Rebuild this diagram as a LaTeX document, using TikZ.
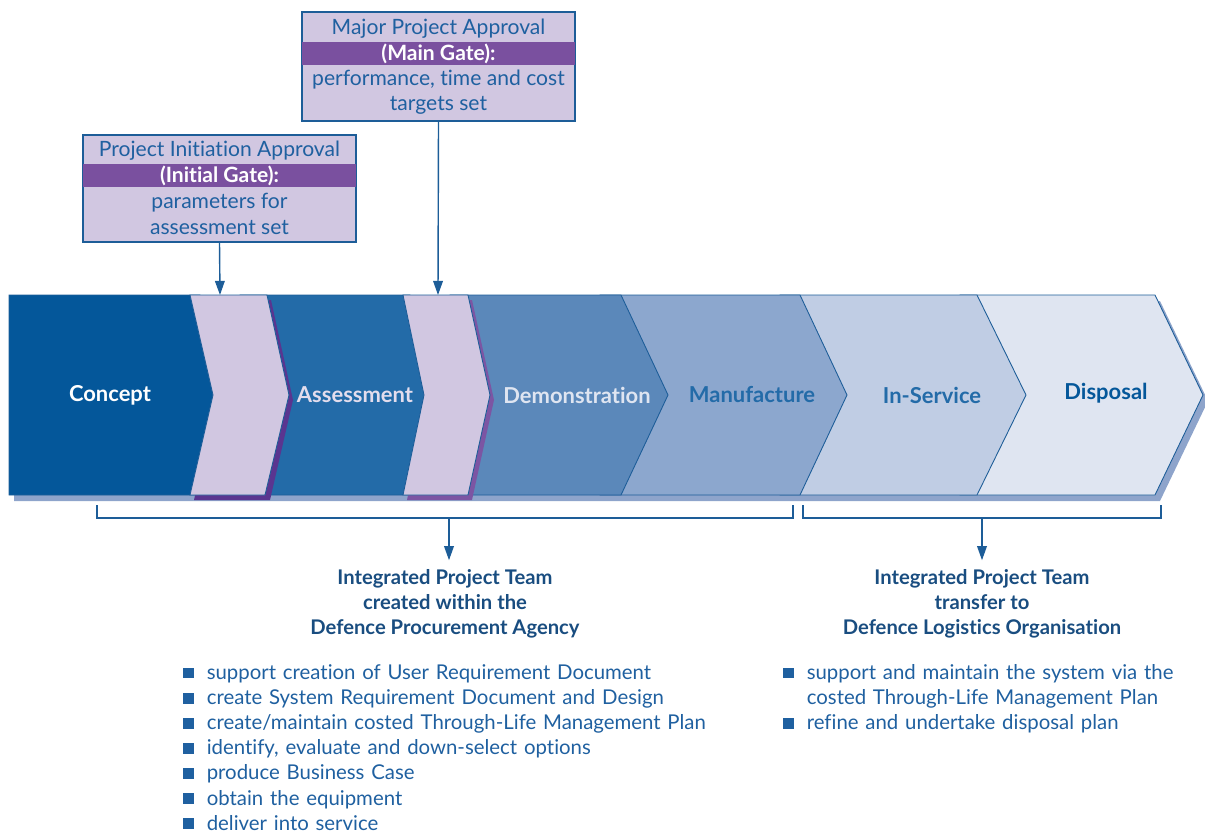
\documentclass[tikz,border=0pt]{standalone}
\usepackage{fontspec}
\setmainfont{Lato}[Ligatures=NoCommon]
\usetikzlibrary{arrows.meta}

\definecolor{conceptblue}{HTML}{04579A}
\definecolor{assessblue}{HTML}{236BA8}
\definecolor{demoblue}{HTML}{5B88BA}
\definecolor{manublue}{HTML}{8CA7CE}
\definecolor{servblue}{HTML}{C0CDE4}
\definecolor{dispblue}{HTML}{DFE5F1}
\definecolor{bandshade}{HTML}{8EA4CB}
\definecolor{gatefill}{HTML}{D1C7E1}
\definecolor{gatepurple}{HTML}{7A509F}
\definecolor{gateshadeA}{HTML}{5A3590}
\definecolor{gateshadeB}{HTML}{7C55A3}
\definecolor{ink}{HTML}{1F60A0}
\definecolor{edge}{HTML}{1D5D98}

\newcommand{\blt}{\par\noindent
  \makebox[1.15em][l]{\color{ink}\raisebox{0.6pt}{\rule{6.2pt}{6.2pt}}}}

\begin{document}
\begin{tikzpicture}[x=0.02cm,y=-0.02cm]
  \tikzstyle{every node}+=[inner sep=0pt]
  \tikzstyle{stage}=[draw=edge,line width=0.5pt]
  \tikzstyle{stagelbl}=[font=\fontsize{12.5}{14}\selectfont\bfseries]
  \tikzstyle{gatebox}=[draw=edge,fill=gatefill,line width=0.8pt,minimum width=5.46cm]
  \tikzstyle{gatetxt}=[text=ink,font=\fontsize{12}{14}\selectfont]
  \tikzstyle{conn}=[draw=edge,line width=0.8pt,-{Triangle[width=5.5pt,length=8pt]}]
  \tikzstyle{brace}=[draw=edge,line width=0.8pt]
  \tikzstyle{teamtxt}=[text=ink!80!black,align=center,font=\fontsize{11.5}{14.4}\selectfont\bfseries]
  \tikzstyle{listtxt}=[text=ink,align=left,font=\fontsize{11.6}{14.3}\selectfont]
  \useasboundingbox (0,0) rectangle (1205,832);

  % shadow under the whole band
  \fill[bandshade] (14,301) -- (1160,301) -- (1208,401) -- (1160,501) -- (14,501) -- cycle;

  % stages, back to front
  \filldraw[stage,fill=dispblue] (960,295) -- (1155,295) -- (1203,395) -- (1155,495) -- (960,495) -- cycle;
  \filldraw[stage,fill=servblue] (780,295) -- (977,295) -- (1026,395) -- (977,495) -- (780,495) -- cycle;
  \filldraw[stage,fill=manublue] (600,295) -- (800,295) -- (847,395) -- (800,495) -- (600,495) -- cycle;
  \filldraw[stage,fill=demoblue] (450,295) -- (621,295) -- (668,395) -- (621,495) -- (450,495) -- cycle;
  \filldraw[stage,fill=assessblue] (240,295) -- (410,295) -- (435,395) -- (410,495) -- (240,495) -- cycle;
  \fill[gateshadeB] (407,300) -- (472,300) -- (494,400) -- (472,500) -- (407,500) -- (428,400) -- cycle;
  \filldraw[stage,fill=gatefill] (403,295) -- (468,295) -- (490,395) -- (468,495) -- (403,495) -- (424,395) -- cycle;
  \filldraw[stage,fill=conceptblue] (9,295) -- (200,295) -- (225,395) -- (200,495) -- (9,495) -- cycle;
  \fill[gateshadeA] (194,300) -- (271,300) -- (293,400) -- (270,500) -- (194,500) -- (217,400) -- cycle;
  \filldraw[stage,fill=gatefill] (190,295) -- (267,295) -- (289,395) -- (265,495) -- (190,495) -- (213,395) -- cycle;

  \node[stagelbl,text=white] (concept) at (110,395) {Concept};
  \node[stagelbl,text=gatefill!60!white] (assess) at (355,395) {Assessment};
  \node[stagelbl,text=dispblue] (demo) at (577,395) {Demonstration};
  \node[stagelbl,text=assessblue] (manu) at (752,395) {Manufacture};
  \node[stagelbl,text=assessblue] (serv) at (932,395) {In-Service};
  \node[stagelbl,text=conceptblue] (disp) at (1106,393) {Disposal};

  \coordinate (gateone) at (220,295);
  \coordinate (gatetwo) at (438,295);

  % approval boxes
  \node[gatebox,minimum height=2.14cm] (initial) at (219.5,188.5) {};
  \fill[gatepurple] (83,164) rectangle (356,187);
  \draw[draw=edge,line width=0.8pt] (initial.south west) rectangle (initial.north east);
  \node[gatetxt] (initA) at (219.5,151) {Project Initiation Approval};
  \node[gatetxt,text=white,font=\fontsize{12}{14}\selectfont\bfseries] (initB) at (219.5,176) {(Initial Gate):};
  \node[gatetxt,align=center,font=\fontsize{12}{14.6}\selectfont] (initC) at (219.5,214) {parameters for\\assessment set};

  \node[gatebox,minimum height=2.18cm] (major) at (438.5,66.5) {};
  \fill[gatepurple] (302,42) rectangle (575,65);
  \draw[draw=edge,line width=0.8pt] (major.south west) rectangle (major.north east);
  \node[gatetxt] (majA) at (438.5,29) {Major Project Approval};
  \node[gatetxt,text=white,font=\fontsize{12}{14}\selectfont\bfseries] (majB) at (438.5,54) {(Main Gate):};
  \node[gatetxt,align=center,font=\fontsize{12}{14.6}\selectfont] (majC) at (438.5,92) {performance, time and cost\\targets set};

  \draw[conn] (initial.south) -- (gateone);
  \draw[conn] (major.south) -- (gatetwo);

  % team brackets
  \draw[brace] (97,505) -- (97,518) -- (793,518) -- (793,505);
  \draw[brace] (803,505) -- (803,518) -- (1161,518) -- (1161,505);
  \coordinate (dpa) at (449,518);
  \coordinate (dlo) at (982,518);

  \node[teamtxt,anchor=north] (dpatxt) at (445,569) {Integrated Project Team\\created within the\\Defence Procurement Agency};
  \node[teamtxt,anchor=north] (dlotxt) at (982,569) {Integrated Project Team\\transfer to\\Defence Logistics Organisation};
  \draw[conn,shorten >=5pt] (dpa) -- (dpa |- dpatxt.north);
  \draw[conn,shorten >=5pt] (dlo) -- (dlo |- dlotxt.north);

  % task lists
  \node[listtxt,anchor=north west,text width=11cm] (dpalist) at (183,654) {%
    \blt support creation of User Requirement Document
    \blt create System Requirement Document and Design
    \blt create/maintain costed Through-Life Management Plan
    \blt identify, evaluate and down-select options
    \blt produce Business Case
    \blt obtain the equipment
    \blt deliver into service};
  \node[listtxt,anchor=north west,text width=8.5cm] (dlolist) at (783,654) {%
    \blt support and maintain the system via the
    \par\noindent\hspace*{1.15em}costed Through-Life Management Plan
    \blt refine and undertake disposal plan};
\end{tikzpicture}
\end{document}
